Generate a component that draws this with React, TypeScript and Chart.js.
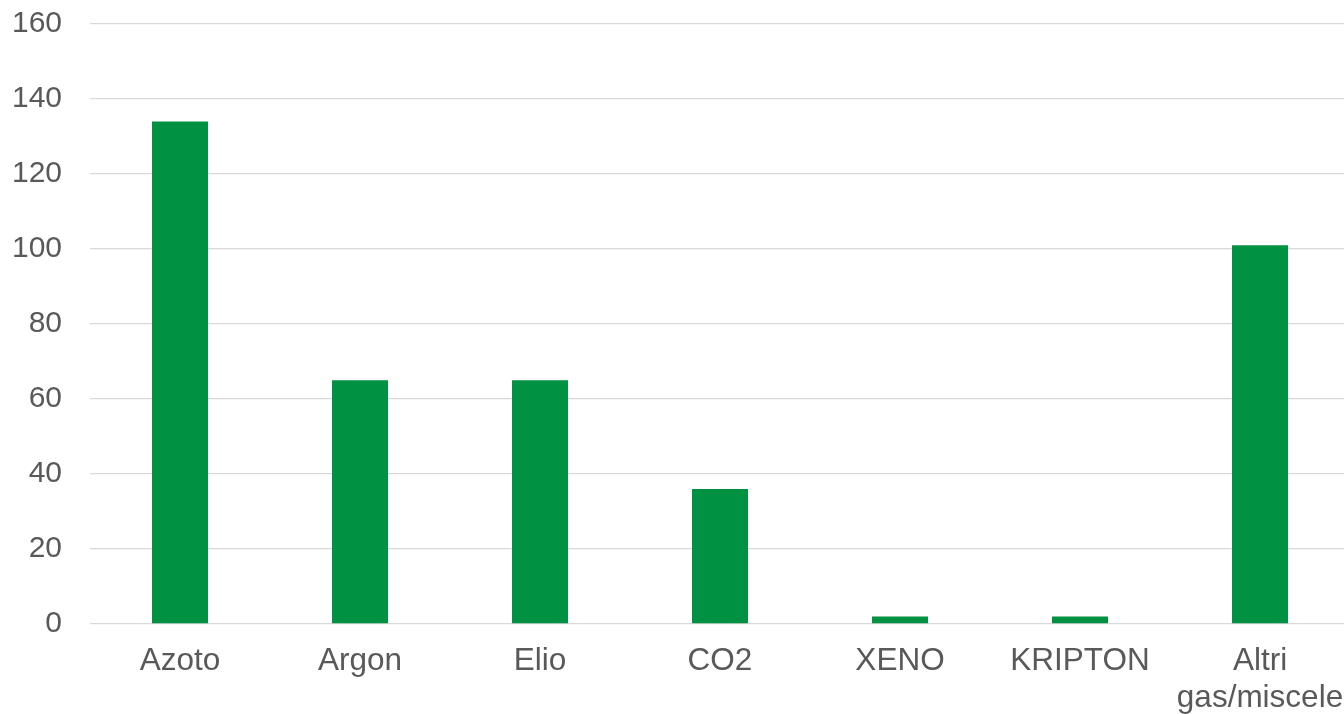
import React, { useEffect, useRef } from "react";
import { Chart, registerables } from "chart.js";

Chart.register(...registerables);

const categories: (string | string[])[] = ["Azoto", "Argon", "Elio", "CO2", "XENO", "KRIPTON", ["Altri", "gas/miscele"]];
const values: number[] = [134, 65, 65, 36, 2, 2, 101];
const yTicks = { min: 0, max: 160, step: 20 };

const CANVAS_W = 1350;
const CANVAS_H = 730;

export default function App() {
  const ref = useRef<HTMLCanvasElement | null>(null);

  useEffect(() => {
    document.body.style.margin = "0";
    document.body.style.overflow = "hidden";
    const canvas = ref.current!;
    const yFont = { family: "'Liberation Sans', Arial, sans-serif", size: 30, lineHeight: 1.2 };
    const xFont = { family: "'Liberation Sans', Arial, sans-serif", size: 31.5, lineHeight: 1.17 };
    const chart = new Chart(canvas, {
      type: "bar",
      data: {
        labels: categories,
        datasets: [
          {
            data: values,
            backgroundColor: "#009143",
            borderWidth: 0,
            barPercentage: 56 / 180,
            categoryPercentage: 1,
          },
        ],
      },
      options: {
        responsive: false,
        animation: false,
        layout: { padding: { top: 24, left: 0, right: 0, bottom: 0 } },
        plugins: { legend: { display: false }, tooltip: { enabled: false } },
        scales: {
          x: {
            grid: { display: false, drawTicks: false },
            border: { display: false },
            ticks: { color: "#595959", font: xFont, padding: 19, maxRotation: 0, autoSkip: false },
            afterFit: (s: any) => {
              s.height = CANVAS_H - 624;
              s.paddingTop = 0;
              s.paddingBottom = 0;
              s.paddingLeft = 0;
              s.paddingRight = 0;
            },
          },
          y: {
            min: yTicks.min,
            max: yTicks.max,
            grid: { color: "#d9d9d9", lineWidth: 1.3, drawTicks: false },
            border: { display: false },
            ticks: { stepSize: yTicks.step, color: "#595959", font: yFont, padding: 28 },
            afterFit: (s: any) => {
              s.width = 90;
              s.paddingTop = 0;
              s.paddingBottom = 0;
            },
          },
        },
      },
    });
    return () => chart.destroy();
  }, []);

  return (
    <div style={{ position: "fixed", left: 0, top: 0, width: 1344, height: 714, overflow: "hidden", background: "#fff" }}>
      <canvas ref={ref} width={CANVAS_W} height={CANVAS_H} style={{ width: CANVAS_W, height: CANVAS_H, display: "block" }} />
    </div>
  );
}
